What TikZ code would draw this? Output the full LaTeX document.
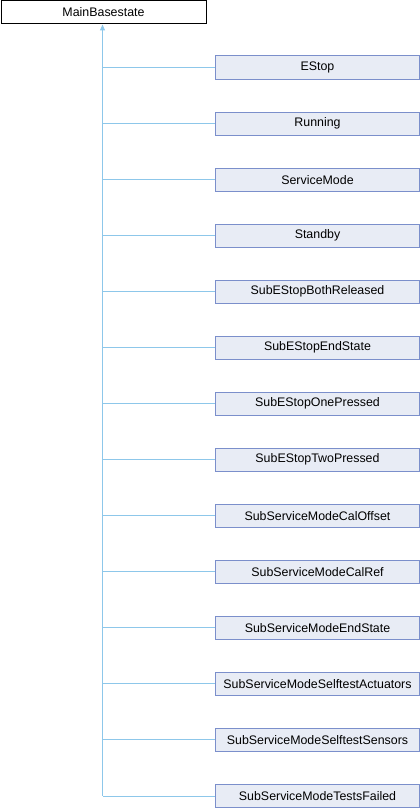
\documentclass[tikz,border=0pt]{standalone}
\usepackage{fontspec}
\setmainfont{Liberation Sans}
\usetikzlibrary{arrows.meta}
\definecolor{boxfill}{HTML}{E8ECF5}
\definecolor{boxdraw}{HTML}{7B8FCB}
\definecolor{edge}{HTML}{8DC7EA}
\begin{document}
\begin{tikzpicture}[x=1pt,y=-1pt,
  cls/.style={draw=boxdraw,fill=boxfill,line width=1pt,minimum width=204pt,minimum height=23pt,inner sep=0pt,font=\fontsize{12.4}{14}\selectfont,anchor=west},
  base/.style={draw=black,fill=white,line width=1pt,minimum width=205pt,minimum height=23pt,inner sep=0pt,font=\fontsize{12.4}{14}\selectfont,anchor=north west},
  edgeline/.style={draw=edge,line width=1pt}]
\useasboundingbox (0,0) rectangle (420,808);
\node[base] (B) at (0.5,0.5) {MainBasestate};
\coordinate (trunk) at (102.5,796);
\foreach \name/\txt [count=\i from 0] in {
  c0/EStop,c1/Running,c2/ServiceMode,c3/Standby,c4/SubEStopBothReleased,
  c5/SubEStopEndState,c6/SubEStopOnePressed,c7/SubEStopTwoPressed,
  c8/SubServiceModeCalOffset,c9/SubServiceModeCalRef,c10/SubServiceModeEndState,
  c11/SubServiceModeSelftestActuators,c12/SubServiceModeSelftestSensors,
  c13/SubServiceModeTestsFailed}{
  \node[cls] (\name) at (215,{67.5+56.04*\i}) {\txt};
  \draw[edgeline] (\name.west) -- (102.5,{67.5+56.04*\i});
}
\draw[edgeline,-{Triangle[length=6pt,width=5pt,fill=edge]}] (trunk) -- (B.south -| trunk);
\end{tikzpicture}
\end{document}
